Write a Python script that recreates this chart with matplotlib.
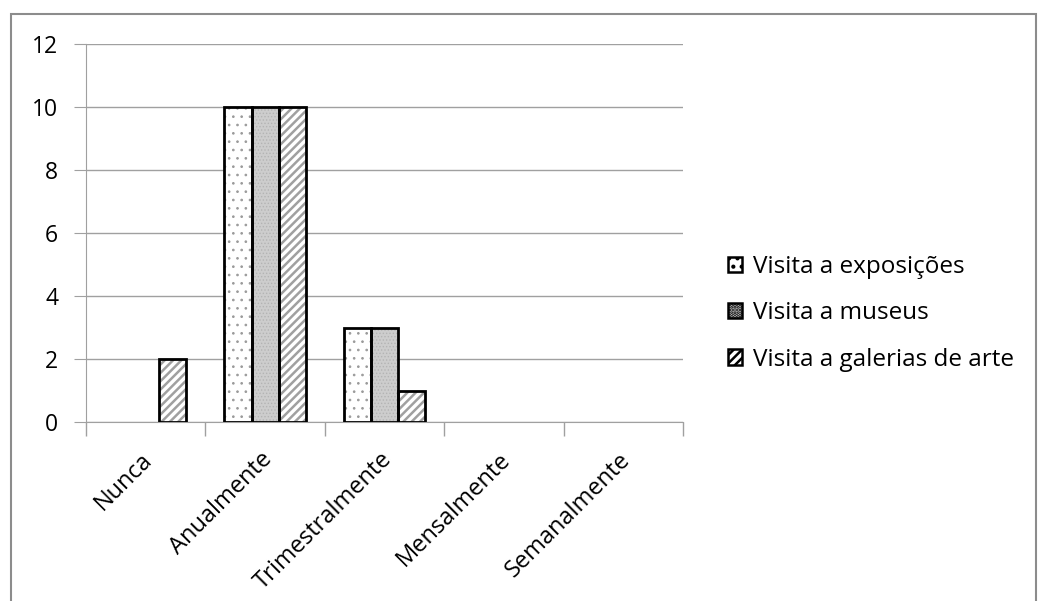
import matplotlib.pyplot as plt
import matplotlib.patches as mpatches
import matplotlib.transforms as mtransforms
import numpy as np

plt.rcParams['font.family'] = ['Open Sans', 'DejaVu Sans']

# Data
categories = ['Nunca', 'Anualmente', 'Trimestralmente', 'Mensalmente', 'Semanalmente']
series_names = ['Visita a exposições', 'Visita a museus', 'Visita a galerias de arte']
exposicoes = [0, 10, 3, 0, 0]
museus = [0, 10, 3, 0, 0]
galerias = [2, 10, 1, 0, 0]
series_values = [exposicoes, museus, galerias]

faces = ['white', '#cdcdcd', 'white']
hatches = ['..', '.....', '////']
hatch_colors = ['#9a9a9a', '#b4b4b4', '#a0a0a0']
hatch_widths = [0.7, 0.6, 1.8]

fig = plt.figure(figsize=(10.39, 6.01), dpi=100)
ax = fig.add_axes([86 / 1039, 1 - 422 / 601, (683 - 86) / 1039, (422 - 44) / 601])

# outer chart border
fig.patches.append(mpatches.Rectangle((11 / 1039, -0.01), (1036 - 11) / 1039, 1 - 14 / 601 + 0.01,
                                      transform=fig.transFigure, fill=False,
                                      edgecolor='#8c8c8c', linewidth=1.5))

x = np.arange(len(categories))
w = 0.227
handles = []
for i, vals in enumerate(series_values):
    vals = np.array(vals, dtype=float)
    pos = x + (i - 1) * w
    keep = vals > 0  # zero values show no bar
    plt.rcParams['hatch.color'] = hatch_colors[i]
    plt.rcParams['hatch.linewidth'] = hatch_widths[i]
    ax.bar(pos[keep], vals[keep], w, color=faces[i], hatch=hatches[i], edgecolor=hatch_colors[i],
           linewidth=0, zorder=3)
    ax.bar(pos[keep], vals[keep], w, fill=False, edgecolor='black', linewidth=2, zorder=4)
    handles.append(mpatches.Patch(facecolor=faces[i], hatch=hatches[i],
                                  edgecolor='black', linewidth=1.8))

ax.set_xlim(-0.5, len(categories) - 0.5)
ax.set_ylim(0, 12)
ax.set_yticks(range(0, 13, 2))
ax.yaxis.grid(True, color='#a0a0a0', linewidth=1)
ax.set_axisbelow(True)
for s in ['top', 'right']:
    ax.spines[s].set_visible(False)
ax.spines['left'].set_color('#a0a0a0')
ax.spines['bottom'].set_color('#a0a0a0')

ax.set_xticks(np.arange(len(categories) + 1) - 0.5, minor=True)
ax.set_xticks(x)
ax.set_xticklabels(categories, rotation=45, ha='right', rotation_mode='anchor', fontsize=17)
ax.tick_params(axis='x', which='major', length=0, pad=20)
ax.tick_params(axis='x', which='minor', length=10, color='#a0a0a0', width=1)
ax.tick_params(axis='y', length=9, color='#a0a0a0', labelsize=16.5, pad=11)
shift = mtransforms.ScaledTranslation(-5 / 100, 2 / 100, fig.dpi_scale_trans)
for lbl in ax.get_xticklabels():
    lbl.set_transform(lbl.get_transform() + shift)

leg = fig.legend(handles, series_names, loc='upper left', bbox_to_anchor=(706 / 1039, 1 - 233 / 601),
                 frameon=False, fontsize=17.5, handlelength=0.6, handleheight=0.6,
                 handletextpad=0.42, labelspacing=0.92)

fig.savefig('out.png', dpi=100)
